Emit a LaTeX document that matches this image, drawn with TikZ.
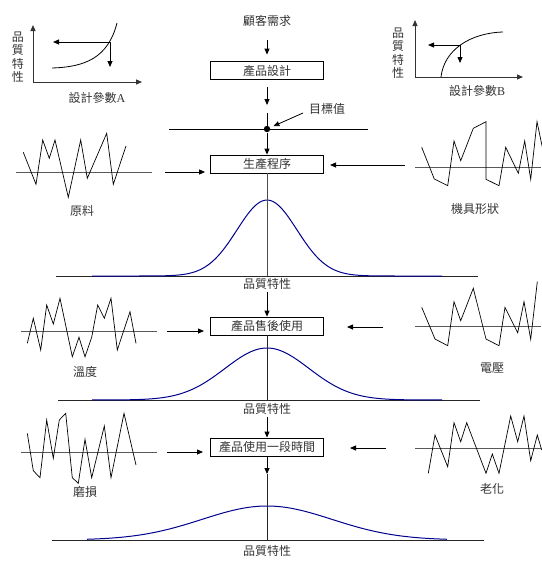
\documentclass[tikz,border=0pt]{standalone}
\usepackage{fontspec}
\setmainfont{Noto Sans CJK TC}
\newfontfamily\latf{Liberation Serif}
\usetikzlibrary{arrows.meta}
\definecolor{bellblue}{RGB}{0,0,140}
\begin{document}
\begin{tikzpicture}[x=1pt,y=-1pt,
  txt/.style={font=\fontsize{12}{13.5}\selectfont, text=black!80, inner sep=0pt},
  vtxt/.style={txt, align=center},
  box/.style={draw, line width=0.8pt, minimum width=113pt, minimum height=18pt, inner sep=0pt,
              font=\fontsize{12}{13.5}\selectfont, text=black!80},
  arr/.style={-{Triangle[length=6pt,width=5pt]}, line width=0.8pt},
  ln/.style={line width=0.8pt},
  axl/.style={line width=1pt, black!80, -{Triangle[length=6pt,width=5pt]}},
  wave/.style={line width=0.7pt},
  wax/.style={line width=1pt, black!65},
  bell/.style={line width=1pt, bellblue},
  base/.style={line width=0.8pt, black!85},
]
\useasboundingbox (0,0) rectangle (541,565);

% ---------- graph A ----------
\coordinate (Ao) at (33,82);
\coordinate (Ay) at (33,25);
\coordinate (Ax) at (142,82);
\draw[axl] (Ao) -- (Ay);
\draw[axl] (Ao) -- (Ax);
\coordinate (Ap) at (110,42);
\coordinate (Ah) at (53,42);
\coordinate (Av) at (110,67);
\draw[ln] (52,68) .. controls (85,67) and (108,58) .. (117,23);
\draw[arr] (Ap) -- (Ah);
\draw[arr] (Ap) -- (Av);
\node[vtxt] (Aq) at (18,57) {品\\質\\特\\性};
\node[txt] (Al) at (97,98) {設計參數{\latf A}};

% ---------- graph B ----------
\coordinate (Bo) at (415,77);
\coordinate (By) at (415,20);
\coordinate (Bx) at (523,77);
\draw[axl] (Bo) -- (By);
\draw[axl] (Bo) -- (Bx);
\coordinate (Bp) at (460,45);
\coordinate (Bh) at (428,45);
\coordinate (Bv) at (460,63);
\draw[ln] (441,77) .. controls (444,50) and (470,33) .. (503,32);
\draw[arr] (Bp) -- (Bh);
\draw[arr] (Bp) -- (Bv);
\node[vtxt] (Bq) at (398,53) {品\\質\\特\\性};
\node[txt] (Bl) at (477,91) {設計參數{\latf B}};

% ---------- top flow ----------
\node[txt] (need) at (267,21) {顧客需求};
\node[box] (design) at (267,70.5) {產品設計};
\draw[arr, shorten <=13pt, shorten >=6.5pt] (need) -- (design);
\coordinate (tgt) at (267,129);
\coordinate (tgtin) at (267,113);
\draw[arr, shorten <=7.5pt, shorten >=24pt] (design) -- (tgt);
\draw[ln] (tgtin) -- (tgt);
\coordinate (tl) at (169,129);
\coordinate (tr) at (368,129);
\draw[ln] (tl) -- (tr);
\fill (tgt) circle (3.2pt);
\node[txt] (tv) at (327,109) {目標值};
\coordinate (tvp) at (303,113);
\draw[arr, shorten >=7pt] (tvp) -- (tgt);

% ---------- section 1 ----------
\node[box] (proc) at (267,164) {生產程序};
\draw[arr, shorten <=4pt] (tgt) -- (proc);
% raw material
\draw[wax] (16,172) -- (152,172);
\draw[wave] (23.3,152.3) -- (36,184.3) -- (42.7,140) -- (49.3,158.3) -- (55,140) -- (68.3,197.3)
  -- (80.7,140) -- (87.3,178.3) -- (106.7,133.3) -- (113.3,184.3) -- (126,146);
\node[txt] (raw) at (82,211) {原料};
\coordinate (p1l) at (165,172);
\draw[arr] (p1l) -- (proc.west |- p1l) [shorten >=5pt];
% machine shape
\draw[wax] (415,167) -- (541,167);
\draw[wave] (421.7,147.3) -- (434.3,179) -- (447.7,185.7) -- (454,141) -- (460.7,160.7) -- (473.3,128.3)
  -- (486,121.7) -- (486,179.3) -- (499,185.7) -- (505.7,147.3) -- (518.3,173.3) -- (524.7,141)
  -- (530.7,179.3) -- (537,121.7) -- (545,160);
\node[txt] (mach) at (475,209) {機具形狀};
\coordinate (p1r) at (405,165);
\coordinate (p1re) at (330,165);
\draw[arr] (p1r) -- (p1re);
% bell 1
\coordinate (b1l) at (56,276);
\coordinate (b1r) at (478,276);
\coordinate (b1c) at (267,276);
\draw[base] (b1l) -- (b1r);
\draw[bell] plot[domain=-175:175, samples=121, smooth] ({267+\x},{276-76*exp(-0.5*(\x/30)^2)});
\draw[line width=1pt, black!70] (proc) -- (b1c);
\node[txt] (q1) at (267,284) {品質特性};

% ---------- section 2 ----------
\node[box] (after) at (267,326) {產品售後使用};
\draw[arr, shorten <=2pt] (q1) -- (after);
\draw[wax] (21,331) -- (156.5,331);
\draw[wave] (27.3,343.3) -- (33.3,318.3) -- (40.7,350) -- (46.7,305) -- (53.3,324) -- (60,298.3)
  -- (72.3,356.7) -- (79,337.3) -- (85,356.7) -- (91.7,337.3) -- (97.7,305) -- (104.3,318.3)
  -- (111,298.3) -- (117.3,350) -- (130,311.7) -- (136,343.3);
\node[txt] (temp) at (85,372) {溫度};
\coordinate (p2l) at (167,331);
\coordinate (p2le) at (204,331);
\draw[arr] (p2l) -- (p2le);
\draw[wax] (415,326) -- (541,326);
\draw[wave] (421.7,307.3) -- (435,339) -- (447.7,345.7) -- (454,301.7) -- (460.7,320.7) -- (473.3,288.3)
  -- (486,339) -- (499,345.7) -- (505,307.3) -- (517.7,332.7) -- (524,301.7) -- (530.7,339.3)
  -- (537.3,281.7);
\node[txt] (volt) at (492,368) {電壓};
\coordinate (p2r) at (383,327);
\coordinate (p2re) at (347,327);
\draw[arr] (p2r) -- (p2re);
% bell 2
\coordinate (b2l) at (58,400);
\coordinate (b2r) at (480,400);
\coordinate (b2c) at (267,400);
\draw[base] (b2l) -- (b2r);
\draw[bell] plot[domain=-175:175, samples=121, smooth] ({267+\x},{400-52*exp(-0.5*(\x/42)^2)});
\draw[line width=1pt, black!85] (after) -- (b2c);
\node[txt] (q2) at (267,409) {品質特性};

% ---------- section 3 ----------
\node[box] (later) at (267,447) {產品使用一段時間};
\draw[arr, shorten <=2pt] (q2) -- (later);
\draw[wax] (21,452) -- (156.5,452);
\draw[wave] (27.3,433.3) -- (33.3,470.7) -- (40,477.7) -- (46.7,420) -- (53.3,458.3) -- (59.3,420)
  -- (65.7,413.3) -- (72.3,477.7) -- (78.3,483.3) -- (85,439.3) -- (91.7,477.7) -- (104.3,426)
  -- (111,477.7) -- (124,413.3) -- (136,465);
\node[txt] (wear) at (85,492) {磨損};
\coordinate (p3l) at (167,452);
\coordinate (p3le) at (203,452);
\draw[arr] (p3l) -- (p3le);
\draw[wax] (415,448) -- (541,448);
\draw[wave] (428.3,473.3) -- (435,435) -- (447.7,466.7) -- (454,422.7) -- (460.7,441.7) -- (466.7,422.7)
  -- (486,473.3) -- (492.3,454) -- (499,473.3) -- (510.7,416) -- (517.7,441.7) -- (524,416)
  -- (530.7,460.7) -- (537.3,435) -- (541.7,450);
\node[txt] (aging) at (492,489) {老化};
\coordinate (p3r) at (386,448);
\coordinate (p3re) at (350,448);
\draw[arr] (p3r) -- (p3re);
% bell 3
\coordinate (b3l) at (52,540);
\coordinate (b3r) at (484,540);
\coordinate (b3c) at (267,540);
\coordinate (b3a) at (267,474);
\draw[base] (b3l) -- (b3r);
\draw[bell] plot[domain=-180:180, samples=121, smooth] ({267+\x},{540-34*exp(-0.5*(\x/65)^2)});
\draw[arr] (later) -- (b3a);
\draw[line width=1pt, black!85] (b3a) -- (b3c);
\node[txt] (q3) at (267,551) {品質特性};
\end{tikzpicture}
\end{document}
